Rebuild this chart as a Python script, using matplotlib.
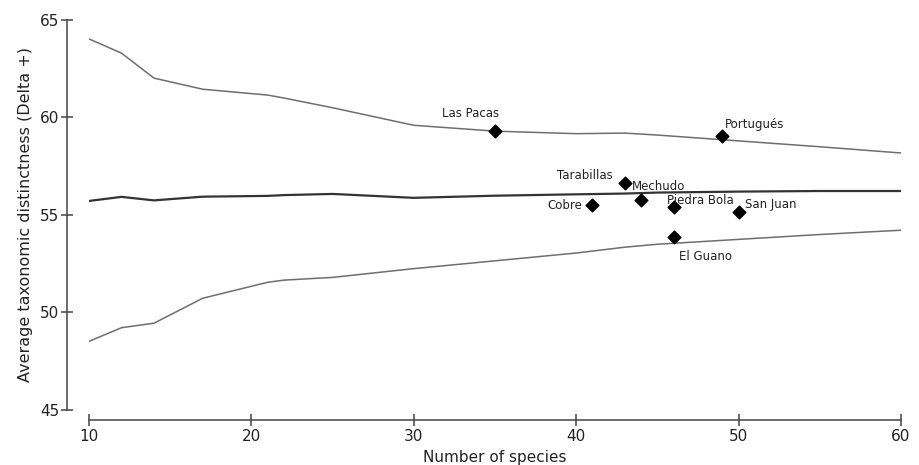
import matplotlib
matplotlib.use('Agg')
import matplotlib.pyplot as plt

# funnel limits (upper / mean / lower) against number of species
n_species = [10, 12, 14, 17, 21, 22, 25, 30, 35, 40, 43, 45, 50, 55, 60]
upper = [64.03, 63.3, 62.02, 61.45, 61.15, 61.0, 60.5, 59.6, 59.3, 59.17, 59.2, 59.1, 58.8, 58.5, 58.18]
mean = [55.72, 55.93, 55.75, 55.94, 55.98, 56.02, 56.08, 55.88, 55.99, 56.06, 56.1, 56.15, 56.2, 56.23, 56.23]
lower = [48.52, 49.22, 49.45, 50.73, 51.55, 51.66, 51.8, 52.25, 52.65, 53.05, 53.35, 53.5, 53.75, 54.0, 54.22]

# sites
sites = ['Las Pacas', 'Portugués', 'Tarabillas', 'Mechudo', 'Cobre',
         'Piedra Bola', 'San Juan', 'El Guano']
site_s = [35, 49, 43, 44, 41, 46, 50, 46]
site_delta = [59.31, 59.05, 56.64, 55.77, 55.51, 55.41, 55.15, 53.87]
# label offsets in pixels, and alignment
label_off = [(-24, 17), (3, 12), (-12, 8), (-9, 13), (-10, 0), (-7, 7), (6, 8), (5, -19)]
label_ha = ['center', 'left', 'right', 'left', 'right', 'left', 'left', 'left']

plt.rcParams['font.family'] = 'DejaVu Sans'
fig = plt.figure(figsize=(9.2, 4.65), dpi=100)
ax = fig.add_axes([89/920, 1-410/465, (901-89)/920, 390/465])

ax.plot(n_species, upper, color='#6e6e6e', lw=1.1)
ax.plot(n_species, lower, color='#6e6e6e', lw=1.1)
ax.plot(n_species, mean, color='#333333', lw=1.6)

ax.scatter(site_s, site_delta, marker='D', s=42, color='black', zorder=3)
for name, x, y, off, ha in zip(sites, site_s, site_delta, label_off, label_ha):
    ax.annotate(name, (x, y), xytext=off, textcoords='offset pixels',
                ha=ha, va='center', fontsize=8.5, color='#222222')

ax.set_xlim(10, 60)
ax.set_ylim(45, 65)
ax.set_xticks([10, 20, 30, 40, 50, 60])
ax.set_yticks([45, 50, 55, 60, 65])

for s in ['top', 'right']:
    ax.spines[s].set_visible(False)
ax.spines['left'].set_position(('outward', 16))
ax.spines['bottom'].set_position(('outward', 7))
for s in ['left', 'bottom']:
    ax.spines[s].set_color('#444444')
    ax.spines[s].set_linewidth(1.1)

ax.tick_params(axis='y', direction='inout', length=9, width=1.1, color='#444444',
               labelsize=11, pad=1, labelcolor='#222222')
ax.tick_params(axis='x', direction='inout', length=8, width=1.1, color='#444444',
               labelsize=11, pad=3, labelcolor='#222222')

ax.set_xlabel('Number of species', fontsize=11, color='#222222', labelpad=4)
ax.set_ylabel('Average taxonomic distinctness (Delta +)', fontsize=11.5,
              color='#222222', labelpad=5)

fig.savefig('out.png', dpi=100)
